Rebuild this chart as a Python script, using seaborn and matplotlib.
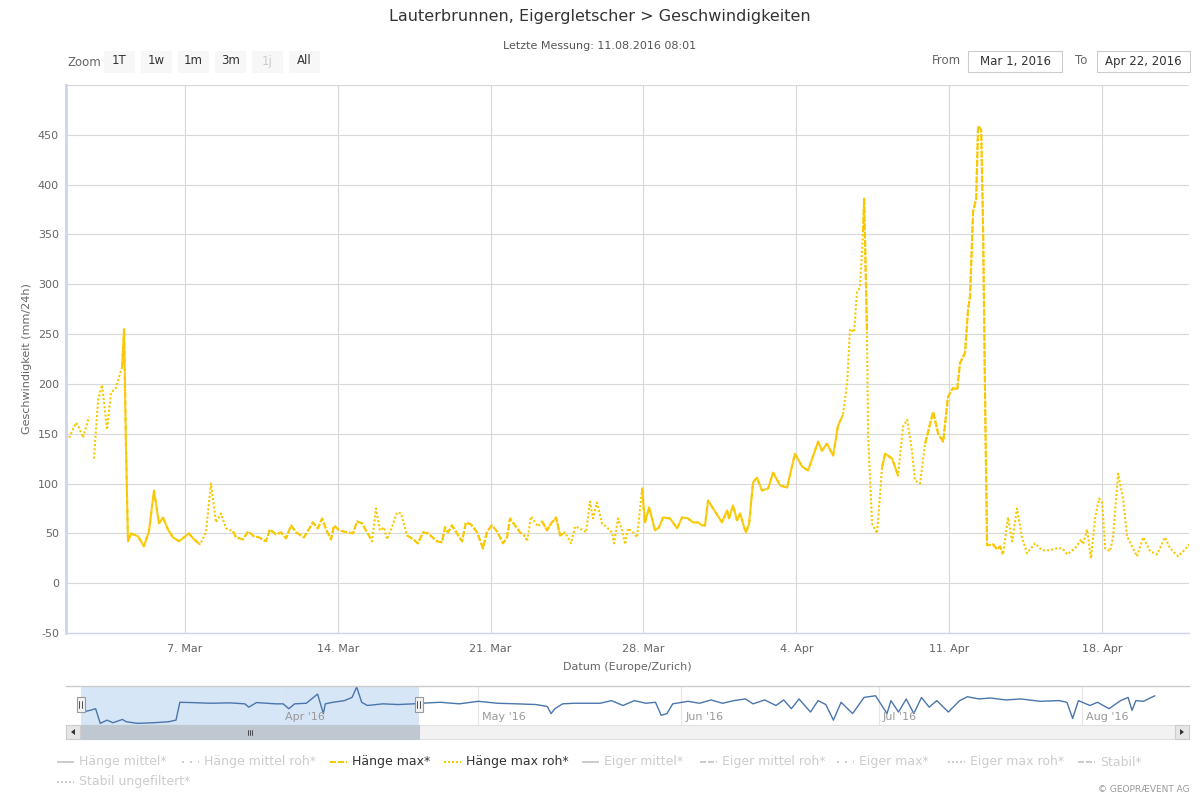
import numpy as np
import pandas as pd
import matplotlib
matplotlib.use("Agg")
import matplotlib.pyplot as plt
import matplotlib.dates as mdates
from matplotlib.lines import Line2D
from matplotlib.patches import Rectangle, Polygon
import seaborn as sns

START = pd.Timestamp("2016-03-01")
VIEW_START = START + pd.Timedelta(days=0.55)
VIEW_END = START + pd.Timedelta(days=51.99)

TITLE = "Lauterbrunnen, Eigergletscher > Geschwindigkeiten"
SUBTITLE = "Letzte Messung: 11.08.2016 08:01"
Y_LABEL = "Geschwindigkeit (mm/24h)"
X_LABEL = "Datum (Europe/Zurich)"
ZOOM_BUTTONS = ["1T", "1w", "1m", "3m", "1j", "All"]
ZOOM_DISABLED = ["1j"]
RANGE_FROM = "Mar 1, 2016"
RANGE_TO = "Apr 22, 2016"

# "Hänge max roh": days since 1 Mar 2016 00:00, mm/24h (nan = break in the line)
roh_days = [0.69, 1.01, 1.15, 1.33, 1.60, 1.72, 1.83, 2.02, 2.20, 2.43, 2.61, 2.84, 2.98,
            3.12, 3.21, 3.30, 3.39, 3.53, 3.85, 4.12, 4.35, 4.58, 4.81, 4.99, 5.22, 5.45,
            5.73, 6.18, 6.41, 6.69, 6.96, 7.19, 7.42, 7.65, 7.88, 8.20, 8.34, 8.66, 8.89,
            9.16, 9.39, 9.71, 9.89, 10.17, 10.40, 10.63, 10.86, 11.09, 11.45, 11.86, 12.09,
            12.28, 12.46, 12.69, 12.83, 13.06, 13.42, 13.70, 13.88, 14.11, 14.34, 14.57,
            14.75, 14.93, 15.12, 15.25, 15.48, 15.71, 15.90, 16.17, 16.45, 16.67, 16.90,
            17.13, 17.55, 17.77, 17.91, 18.05, 18.23, 18.46, 18.69, 18.87, 19.10, 19.38,
            19.65, 19.84, 20.06, 20.29, 20.57, 20.75, 20.89, 21.12, 21.35, 21.58, 21.67,
            21.85, 22.03, 22.17, 22.36, 22.58, 22.77, 23.00, 23.18, 23.41, 23.68, 23.87,
            24.10, 24.37, 24.55, 24.69, 24.87, 25.10, 25.33, 25.56, 25.65, 25.84, 26.02,
            26.16, 26.29, 26.52, 26.71, 26.94, 27.07, 27.26, 27.53, 27.71, 27.90, 28.22,
            28.54, 28.77, 29.04, 29.27, 29.50, 29.69, 29.82, 29.96, 30.19, 30.60, 30.83,
            30.92, 31.10, 31.29, 31.43, 31.61, 31.70, 31.84, 32.02, 32.20, 32.43, 32.71,
            32.94, 33.26, 33.58, 33.94, 34.27, 34.54, 35.00, 35.18, 35.41, 35.69, 35.91,
            36.14, 36.33, 36.46, 36.65, 36.78, 36.92, 37.06, 37.11, 37.24, 37.29, 37.47,
            37.70, 37.93, 38.07, 38.39, 38.66, 38.89, 39.08, 39.30, 39.44, 39.67, 39.90,
            40.27, 40.50, 40.73, 40.95, 41.18, 41.37, 41.50, 41.73, 41.87, 41.96, 42.10,
            42.24, 42.33, 42.47, 42.56, 42.65, 42.74, 43.01, 43.20, 43.34, 43.47, 43.70,
            43.89, 44.11, 44.34, 44.57, 44.94, 45.26, 45.53, 45.95, 46.18, 46.41, 46.77,
            47.05, 47.14, 47.32, 47.50, 47.69, 47.87, 48.01, 48.15, 48.37, 48.51, 48.74,
            48.97, 49.15, 49.61, 49.89, 50.21, 50.53, 50.89, 51.12, 51.49, 51.81, 51.99]
roh_vals = [146, 161, 156, 146, 167, np.nan, 125, 184, 199, 154, 191, 196, 207,
            217, 255, 133, 42, 50, 47, 37, 52, 93, 60, 66, 54, 46,
            42, 50, 44, 39, 51, 100, 61, 70, 55, 52, 46, 44, 52,
            47, 46, 42, 54, 49, 51, 45, 58, 51, 46, 61, 55,
            65, 54, 44, 58, 53, 51, 50, 62, 60, 51, 42,
            75, 53, 56, 44, 56, 71, 70, 48, 44, 40, 51,
            50, 42, 41, 56, 51, 58, 50, 42, 61, 59, 51,
            35, 52, 58, 52, 40, 46, 65, 58, 51, 47, 42,
            67, 61, 57, 62, 53, 60, 66, 48, 51, 40, 57,
            55, 51, 82, 65, 81, 60, 56, 51, 40, 65, 53,
            39, 55, 51, 46, 95, 61, 76, 53, 56, 66, 65,
            55, 66, 65, 61, 61, 58, 58, 83, 75, 61, 73,
            65, 78, 63, 70, 56, 51, 60, 101, 106, 93, 95,
            111, 98, 96, 130, 117, 113, 142, 133, 140, 128, 158,
            169, 201, 255, 252, 292, 297, 353, 386, 252, 150, 60,
            50, 116, 130, 125, 108, 157, 164, 133, 103, 100, 140,
            172, 150, 142, 187, 196, 194, 221, 231, 275, 288, 373,
            386, 459, 455, 353, 184, 38, 39, 34, 37, 29, 66,
            42, 75, 46, 30, 40, 33, 33, 35, 35, 29, 35,
            44, 39, 54, 25, 66, 85, 81, 35, 32, 46, 110,
            85, 47, 27, 46, 32, 29, 46, 35, 27, 34, 39]

# periods (days) where the filtered "Hänge max" series has no values
max_gaps = [(0.0, 3.05), (6.9, 7.95), (14.6, 16.05), (21.6, 22.2), (23.6, 26.8),
            (36.2, 37.0), (37.27, 37.9), (38.8, 39.75), (43.6, 53.0)]

# navigator series over the full record (days since 1 Mar 2016)
nav_days = [0.80, 1.97, 2.84, 3.54, 4.59, 5.46, 6.92, 7.50, 9.25, 11.58, 13.91, 15.07,
            15.66, 17.41, 20.32, 23.23, 25.56, 26.15, 27.31, 30.22, 31.38, 32.25, 33.13,
            34.89, 36.62, 37.50, 37.79, 38.96, 40.70, 41.87, 42.57, 43.33, 44.20, 46.53,
            48.86, 51.19, 52.36, 55.27, 58.17, 61.09, 64.00, 66.91, 69.83, 71.58, 72.16,
            72.74, 73.91, 75.66, 79.62, 81.35, 83.11, 84.84, 86.59, 88.05, 88.92, 89.80,
            90.67, 93.00, 94.75, 96.50, 98.25, 99.99, 101.74, 102.91, 104.66, 106.39,
            107.56, 108.74, 109.89, 111.64, 112.80, 113.97, 115.13, 116.30, 118.05,
            119.80, 121.54, 123.29, 123.88, 125.04, 126.21, 127.37, 128.54, 129.70,
            130.87, 132.62, 134.35, 135.52, 137.28, 139.03, 141.36, 143.68, 146.59,
            149.50, 150.67, 151.54, 152.42, 154.17, 155.33, 157.08, 158.83, 159.98,
            160.58, 161.16, 162.31, 164.06]
nav_vals = [13.3, 15.0, 16.7, 1.7, 5.0, 2.3, 5.7, 3.3, 1.7, 2.3, 3.3, 5.0,
            23.3, 23.0, 22.3, 22.7, 21.7, 18.3, 23.0, 21.7, 21.7, 16.7, 21.7,
            22.3, 31.7, 11.7, 21.7, 23.3, 25.0, 28.3, 39.0, 23.3, 20.0, 21.7,
            21.0, 21.7, 22.3, 23.3, 21.7, 24.3, 22.3, 21.7, 21.0, 19.0, 11.7,
            16.7, 21.7, 22.3, 22.3, 25.0, 20.0, 25.0, 22.3, 23.3, 10.0, 11.7,
            21.7, 24.3, 22.3, 25.7, 22.3, 25.0, 26.7, 21.7, 25.7, 20.0,
            25.7, 16.7, 26.7, 13.3, 25.0, 21.0, 5.0, 23.3, 11.7,
            28.3, 30.0, 11.7, 25.0, 13.3, 26.7, 11.7, 28.3, 18.3,
            25.0, 13.3, 25.0, 29.0, 26.7, 27.7, 25.7, 26.7, 24.3,
            25.0, 23.3, 6.7, 25.0, 20.0, 23.3, 16.7, 25.0, 28.3,
            15.0, 25.0, 24.3, 30.0]

LEGEND_ITEMS = [
    ("Hänge mittel*", "solid", False),
    ("Hänge mittel roh*", "dot", False),
    ("Hänge max*", "shortdash", True),
    ("Hänge max roh*", "shortdot", True),
    ("Eiger mittel*", "solid", False),
    ("Eiger mittel roh*", "shortdash", False),
    ("Eiger max*", "dot", False),
    ("Eiger max roh*", "shortdot", False),
    ("Stabil*", "shortdash", False),
    ("Stabil ungefiltert*", "shortdot", False),
]
LEGEND_X = [57, 182, 330, 444, 582, 700, 837, 948, 1078, 57]
LEGEND_Y = [762] * 9 + [782]

GOLD = "#f9c800"
NAV_BLUE = "#4a75ac"
GREY_TXT = "#666666"
DASHES = {"solid": "-", "dot": (0, (1, 3)), "shortdash": (0, (3, 1)), "shortdot": (0, (1, 1))}


def fx(px):
    return px / 1200


def fy(py):
    return 1 - py / 800


def to_frame(days, vals):
    df = pd.DataFrame({"days": days, "value": vals})
    df["seg"] = df["value"].isna().cumsum()
    df = df.dropna().copy()
    df["time"] = START + pd.to_timedelta(df["days"], unit="D")
    return df


sns.set_style("white")
plt.rcParams["font.family"] = ["DejaVu Sans"]

roh_df = to_frame(roh_days, roh_vals)
max_vals = [np.nan if any(a <= d <= b for a, b in max_gaps) else v
            for d, v in zip(roh_days, roh_vals)]
max_df = to_frame(roh_days, max_vals)
nav_df = to_frame(nav_days, nav_vals)

fig = plt.figure(figsize=(12, 8), dpi=100)

# ---- main chart -----------------------------------------------------------
ax = fig.add_axes([fx(66), fy(633), fx(1189) - fx(66), fy(85) - fy(633)])
sns.lineplot(data=roh_df, x="time", y="value", units="seg", estimator=None,
             color=GOLD, lw=1.5, linestyle=DASHES["shortdot"], ax=ax, legend=False)
sns.lineplot(data=max_df, x="time", y="value", units="seg", estimator=None,
             color=GOLD, lw=1.5, linestyle=DASHES["shortdash"], ax=ax, legend=False)
ax.set_xlim(VIEW_START, VIEW_END)
ax.set_ylim(-50, 500)
yt = list(range(-50, 501, 50))
ax.set_yticks(yt)
ax.set_yticklabels([str(v) if v < 500 else "" for v in yt])
ax.xaxis.set_major_locator(mdates.WeekdayLocator(byweekday=mdates.MO))
ax.xaxis.set_major_formatter(plt.FuncFormatter(
    lambda x, pos: f"{mdates.num2date(x).day}. {mdates.num2date(x):%b}"))
ax.grid(True, color="#d8d8d8", lw=0.8)
ax.tick_params(axis="y", length=0, pad=5, labelsize=8, labelcolor=GREY_TXT)
ax.tick_params(axis="x", length=4, width=0.8, color="#ccd6eb", pad=4,
               labelsize=8, labelcolor=GREY_TXT)
for s in ("top", "right"):
    ax.spines[s].set_visible(False)
ax.spines["left"].set_color("#ccd6eb")
ax.spines["left"].set_linewidth(2)
ax.spines["bottom"].set_color("#ccd6eb")
ax.spines["bottom"].set_linewidth(1)
ax.set_ylabel(Y_LABEL, fontsize=8, color=GREY_TXT, labelpad=4)
ax.set_xlabel(X_LABEL, fontsize=8, color=GREY_TXT, labelpad=6)

# ---- navigator ------------------------------------------------------------
nav = fig.add_axes([fx(66), fy(725), fx(1189) - fx(66), fy(686) - fy(725)])
nav_x0 = START + pd.Timedelta(days=-1.67)
nav_x1 = START + pd.Timedelta(days=169.25)
nav.axvspan(VIEW_START, VIEW_END, color="#d6e6f7", lw=0, zorder=0)
sns.lineplot(data=nav_df, x="time", y="value", units="seg", estimator=None,
             color=NAV_BLUE, lw=1, ax=nav, legend=False)
nav.set_xlim(nav_x0, nav_x1)
nav.set_ylim(0, 40)
months = pd.date_range("2016-04-01", "2016-08-01", freq="MS")
nav.set_xticks(months)
nav.grid(True, axis="x", color="#e6e6e6", lw=0.8)
nav.set_yticks([])
nav.tick_params(axis="x", length=0, labelbottom=False)
nav.set_xlabel("")
nav.set_ylabel("")
for s in ("left", "right", "bottom"):
    nav.spines[s].set_visible(False)
nav.spines["top"].set_color("#cccccc")
nav.spines["top"].set_linewidth(1)
for m in months:
    nav.text(m + pd.Timedelta(days=0.6), 0.2, f"{m:%b} '{m:%y}", transform=nav.get_xaxis_transform(),
             fontsize=8, color="#999999", ha="left", va="center")

# selection handles and scrollbar (pixel positions from the navigator scale)
h0 = nav.transData.transform((mdates.date2num(VIEW_START), 0))[0]
h1 = nav.transData.transform((mdates.date2num(VIEW_END), 0))[0]
fig.add_artist(Rectangle((fx(66), fy(739)), fx(1189) - fx(66), fy(725) - fy(739),
                         transform=fig.transFigure, fc="#f2f2f2", ec="#e0e0e0", lw=0.8))
fig.add_artist(Rectangle((fx(h0), fy(739)), fx(h1) - fx(h0), fy(725) - fy(739),
                         transform=fig.transFigure, fc="#bfc8d1", ec="#bfc8d1", lw=0.8))
gx = (h0 + h1) / 2
for dx in (-2, 0, 2):
    fig.add_artist(Line2D([fx(gx + dx)] * 2, [fy(729.5), fy(734.5)],
                          transform=fig.transFigure, color="#333333", lw=0.6))
for bx, pts in ((66, [(75, 729), (75, 735), (71, 732)]),
                (1175, [(1180, 729), (1180, 735), (1184, 732)])):
    fig.add_artist(Rectangle((fx(bx), fy(739)), fx(14), fy(725) - fy(739),
                             transform=fig.transFigure, fc="#e6e6e6", ec="#cccccc", lw=0.8))
    fig.add_artist(Polygon([(fx(px), fy(py)) for px, py in pts], closed=True,
                           transform=fig.transFigure, fc="#333333", ec="none"))
for hx in (h0, h1):
    fig.add_artist(Rectangle((fx(hx - 4), fy(712)), fx(8), fy(697) - fy(712),
                             transform=fig.transFigure, fc="#f2f2f2", ec="#999999", lw=0.8))
    for dx in (-1.2, 1.2):
        fig.add_artist(Line2D([fx(hx + dx)] * 2, [fy(701), fy(708)],
                              transform=fig.transFigure, color="#333333", lw=0.6))

# ---- header ---------------------------------------------------------------
fig.text(fx(600), fy(17), TITLE, ha="center", va="center", fontsize=11.5, color="#333333")
fig.text(fx(600), fy(46), SUBTITLE, ha="center", va="center", fontsize=8, color="#555555")
fig.text(fx(67), fy(62), "Zoom", ha="left", va="center", fontsize=8.5, color=GREY_TXT)
for i, lab in enumerate(ZOOM_BUTTONS):
    bx = 104 + i * 37
    fig.add_artist(Rectangle((fx(bx), fy(73)), fx(31), fy(51) - fy(73),
                             transform=fig.transFigure, fc="#f7f7f7", ec="none"))
    fig.text(fx(bx + 15.5), fy(61), lab, ha="center", va="center", fontsize=8.5,
             color="#cccccc" if lab in ZOOM_DISABLED else "#333333")
fig.text(fx(946), fy(61), "From", ha="center", va="center", fontsize=8.5, color=GREY_TXT)
fig.text(fx(1081), fy(61), "To", ha="center", va="center", fontsize=8.5, color=GREY_TXT)
for (b0, b1), lab in (((968, 1062), RANGE_FROM), ((1097, 1190), RANGE_TO)):
    fig.add_artist(Rectangle((fx(b0), fy(72)), fx(b1 - b0), fy(51) - fy(72),
                             transform=fig.transFigure, fc="white", ec="#cccccc", lw=0.8))
    fig.text(fx((b0 + b1) / 2), fy(61), lab, ha="center", va="center", fontsize=8.5,
             color="#333333")

# ---- legend ---------------------------------------------------------------
for (lab, style, active), lx, ly in zip(LEGEND_ITEMS, LEGEND_X, LEGEND_Y):
    col = GOLD if active else "#cccccc"
    fig.add_artist(Line2D([fx(lx), fx(lx + 17)], [fy(ly), fy(ly)], transform=fig.transFigure,
                          color=col, lw=1.44, linestyle=DASHES[style], solid_capstyle="butt",
                          dash_capstyle="butt"))
    fig.text(fx(lx + 22), fy(ly), lab, ha="left", va="center", fontsize=9,
             color="#333333" if active else "#cccccc")
fig.text(fx(1190), fy(790), "© GEOPRÆVENT AG", ha="right", va="center", fontsize=6.5,
         color="#999999")

fig.savefig("out.png", dpi=100)
